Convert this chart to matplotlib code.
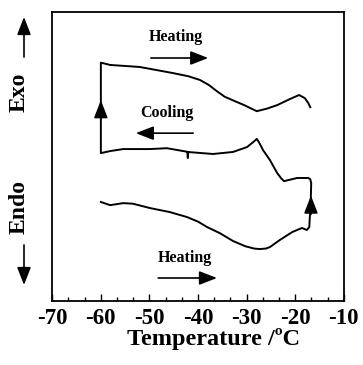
import numpy as np
import matplotlib
matplotlib.use("Agg")
import matplotlib.pyplot as plt
from matplotlib.ticker import MultipleLocator

plt.rcParams['font.family'] = ['Liberation Serif', 'DejaVu Serif']
plt.rcParams['font.weight'] = 'bold'
plt.rcParams['axes.unicode_minus'] = False

# DSC trace (temperature in degC, heat flow in arbitrary units)
# first heating (bottom curve), left to right
heat1_T = [-60.0, -58.1, -55.4, -53.4, -49.9, -45.8, -42.3, -40.0, -38.1, -35.5,
           -32.8, -30.3, -28.5, -27.3, -26.0, -25.2, -23.2, -20.6, -18.6, -17.6, -17.1]
heat1_Y = [3.43, 3.32, 3.39, 3.37, 3.22, 3.08, 2.91, 2.75, 2.56, 2.35,
           2.08, 1.90, 1.82, 1.80, 1.82, 1.87, 2.11, 2.39, 2.53, 2.46, 2.56]

# cooling, right to left
cool_T = [-16.8, -16.7, -16.9, -17.3, -19.6, -22.3, -22.9, -23.7, -25.2, -26.6,
          -27.4, -27.9, -28.5, -29.9, -32.8, -36.9, -42.2, -42.1, -42.0, -46.4,
          -49.9, -55.4, -58.1, -60.0]
cool_Y = [3.45, 4.08, 4.22, 4.26, 4.26, 4.15, 4.25, 4.43, 4.88, 5.22,
          5.48, 5.61, 5.52, 5.33, 5.16, 5.09, 5.16, 4.95, 5.16, 5.29,
          5.26, 5.26, 5.19, 5.12]

# second heating (top curve), left to right
heat2_T = [-60.0, -58.1, -52.0, -45.2, -42.0, -39.6, -37.8, -36.1, -34.5, -33.0,
           -30.5, -27.9, -25.8, -23.7, -21.1, -19.2, -18.0, -17.3, -16.9]
heat2_Y = [8.25, 8.17, 8.10, 7.89, 7.78, 7.65, 7.48, 7.26, 7.07, 6.96,
           6.78, 6.57, 6.66, 6.78, 6.99, 7.13, 7.02, 6.85, 6.71]

fig = plt.figure(figsize=(3.63, 3.65), dpi=100)
ax = fig.add_axes([0.144, 0.175, 0.803, 0.792])

path_T = heat1_T + cool_T + heat2_T
path_Y = heat1_Y + cool_Y + heat2_Y
ax.plot(path_T, path_Y, color='black', linewidth=1.4, solid_joinstyle='round')

head = dict(arrowstyle='-|>,head_length=0.9,head_width=0.35', color='black',
            linewidth=1.2, shrinkA=0, shrinkB=0, mutation_scale=12)
# arrows on the trace
ax.annotate('', xy=(-60.0, 6.95), xytext=(-60.0, 6.3), arrowprops=head)
ax.annotate('', xy=(-16.75, 3.65), xytext=(-16.75, 3.0), arrowprops=head)

# direction arrows
ax.annotate('', xy=(-37.9, 8.41), xytext=(-49.7, 8.41), arrowprops=head)
ax.annotate('', xy=(-52.8, 5.81), xytext=(-41.0, 5.81), arrowprops=head)
ax.annotate('', xy=(-36.1, 0.80), xytext=(-48.2, 0.80), arrowprops=head)

ax.text(-44.5, 9.13, 'Heating', fontsize=11.5, fontweight='bold', ha='center', va='center')
ax.text(-46.4, 6.50, 'Cooling', fontsize=11.5, fontweight='bold', ha='center', va='center')
ax.text(-42.7, 1.49, 'Heating', fontsize=11.5, fontweight='bold', ha='center', va='center')

ax.set_xlim(-70, -10)
ax.set_ylim(0, 10)
ax.set_yticks([])
ax.xaxis.set_major_locator(MultipleLocator(10))
ax.xaxis.set_minor_locator(MultipleLocator(10 / 3))
ax.tick_params(axis='x', which='major', direction='in', length=5, width=1, pad=5,
               labelsize=16.5)
ax.tick_params(axis='x', which='minor', direction='in', length=3, width=1)
for lab in ax.get_xticklabels():
    lab.set_fontweight('bold')
for sp in ax.spines.values():
    sp.set_linewidth(1.3)

fig.text(0.588, 0.055, 'Temperature /ºC', fontsize=17.5, fontweight='bold',
         ha='center', va='baseline')

# Exo / Endo labels with arrows
fig.text(0.052, 0.748, 'Exo', rotation=90, fontsize=17, fontweight='bold',
         ha='center', va='center')
fig.text(0.052, 0.433, 'Endo', rotation=90, fontsize=17, fontweight='bold',
         ha='center', va='center')
fig_head = dict(arrowstyle='-|>,head_length=0.9,head_width=0.35', color='black',
                linewidth=1.2, shrinkA=0, shrinkB=0, mutation_scale=12)
ax.annotate('', xy=(24 / 363, 1 - 17 / 365), xytext=(24 / 363, 1 - 57 / 365),
            xycoords='figure fraction', textcoords='figure fraction',
            arrowprops=fig_head, annotation_clip=False)
ax.annotate('', xy=(24 / 363, 1 - 285 / 365), xytext=(24 / 363, 1 - 245 / 365),
            xycoords='figure fraction', textcoords='figure fraction',
            arrowprops=fig_head, annotation_clip=False)

fig.savefig('out.png', dpi=100)
